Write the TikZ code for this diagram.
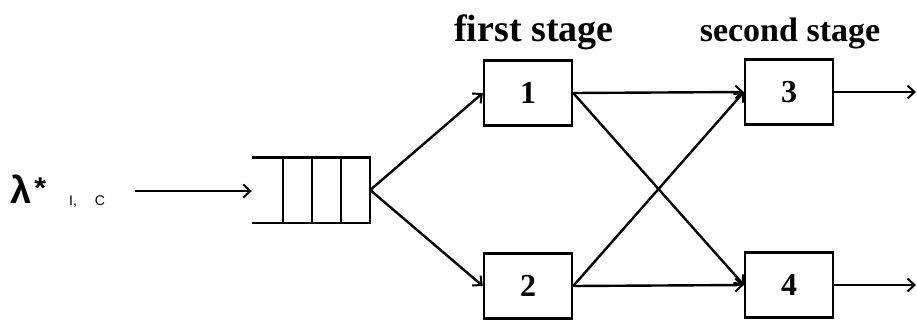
\documentclass[tikz,border=0pt]{standalone}
\usepackage{fontspec}
\setmainfont{Liberation Serif}
\newfontfamily\lamfont{Liberation Sans}
\usetikzlibrary{arrows.meta}
\tikzset{
  conn/.style={line width=2.4pt,-{Straight Barb[length=7pt,width=13pt,line width=2pt]}},
  stagebox/.style={draw,line width=2.4pt,minimum width=88pt,minimum height=65pt,inner sep=0pt,
    font=\fontsize{32}{34}\selectfont\bfseries},
  stagelabel/.style={font=\fontsize{38}{42}\selectfont\bfseries,inner sep=0pt},
  qline/.style={line width=2.4pt}
}
\begin{document}
\begin{tikzpicture}[x=1pt,y=-1pt]
\useasboundingbox (0,0) rectangle (917,322);
% labels
\node[stagelabel,anchor=base] (l1) at (534,41) {first stage};
\node[stagelabel,anchor=base,font=\fontsize{34}{38}\selectfont\bfseries] (l2) at (790,41) {second stage};
% boxes
\node[stagebox] (b1) at (528,93) {1};
\node[stagebox] (b2) at (528,286) {2};
\node[stagebox] (b3) at (789,92) {3};
\node[stagebox] (b4) at (789,285) {4};
% queue
\node[minimum width=118pt,minimum height=65pt,inner sep=0pt] (q) at (311,190) {};
\draw[qline] (q.north west) -- (q.north east) -- (q.south east) -- (q.south west);
\draw[qline] (283,157.5) -- (283,222.5);
\draw[qline] (312,157.5) -- (312,222.5);
\draw[qline] (341,157.5) -- (341,222.5);
% input label
\node[anchor=base west,inner sep=0pt,font=\lamfont\bfseries\fontsize{38}{40}\selectfont] (lam) at (10,203) {λ\hspace{3pt}\raisebox{5pt}{\fontsize{30}{32}\selectfont *}};
\node[anchor=base west,inner sep=0pt,font=\lamfont\fontsize{14}{16}\selectfont] (sub) at (69,205) {I,\hspace{18pt}C};
\coordinate (in) at (135,191);
\coordinate (o3) at (916,92);
\coordinate (o4) at (916,285);
% connectors
\draw[conn] (in) -- (q.west |- in);
\draw[conn] (q.east) -- (b1.west);
\draw[conn] (q.east) -- (b2.west);
\draw[conn] (b1.east) -- (b3.west);
\draw[conn] (b1.east) -- (b4.west);
\draw[conn] (b2.east) -- (b3.west);
\draw[conn] (b2.east) -- (b4.west);
\draw[conn] (b3.east) -- (o3);
\draw[conn] (b4.east) -- (o4);
\end{tikzpicture}
\end{document}
